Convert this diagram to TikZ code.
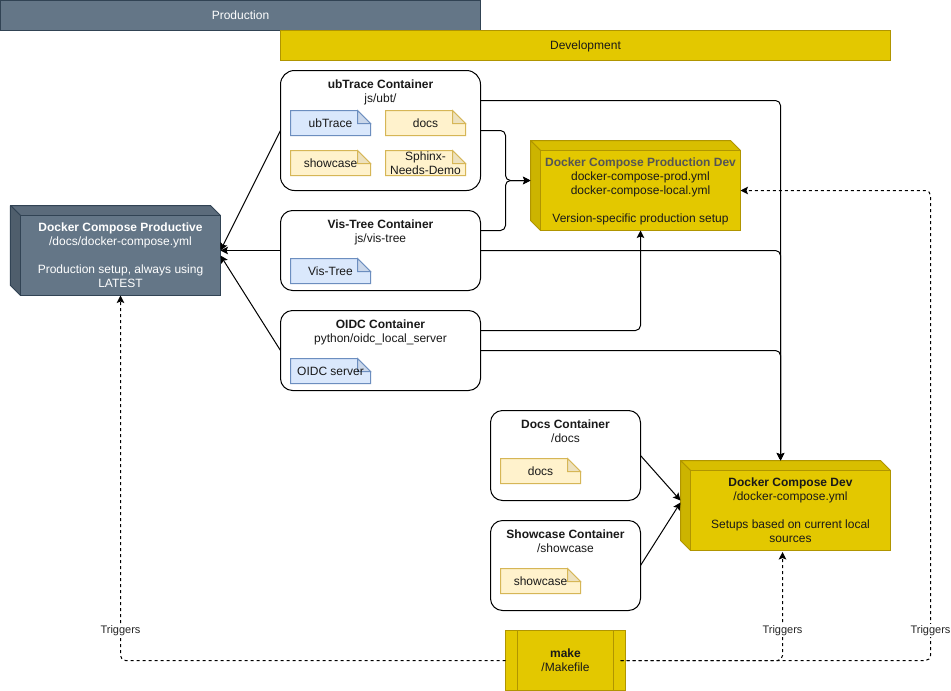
\documentclass[tikz,border=0pt]{standalone}
\usepackage{fontspec}
\setmainfont{Liberation Sans}
\usetikzlibrary{arrows.meta,calc}
\definecolor{slateF}{HTML}{647687}
\definecolor{slateS}{HTML}{314354}
\definecolor{slateTop}{HTML}{5B6B7B}
\definecolor{slateSide}{HTML}{4F5E6C}
\definecolor{goldF}{HTML}{E3C800}
\definecolor{goldS}{HTML}{B09500}
\definecolor{goldTop}{HTML}{D8BE00}
\definecolor{goldSide}{HTML}{CCB400}
\definecolor{noteYF}{HTML}{FFF2CC}
\definecolor{noteYS}{HTML}{D6B656}
\definecolor{noteYD}{HTML}{EDE1BE}
\definecolor{noteBF}{HTML}{DAE8FC}
\definecolor{noteBS}{HTML}{6C8EBF}
\definecolor{noteBD}{HTML}{CAD7EA}
\definecolor{txtgray}{HTML}{555555}
\tikzset{
  every node/.style={font=\fontsize{12}{14}\selectfont,inner sep=0pt,outer sep=0pt,text=black!90},
  bar/.style={draw,line width=1pt,anchor=north west},
  prodbar/.style={bar,fill=slateF,draw=slateS,text=white},
  devbar/.style={bar,fill=goldF,draw=goldS},
  container/.style={draw=black,fill=white,line width=1pt,rounded corners=12pt,anchor=north west},
  ctext/.style={align=center},
  notetext/.style={align=center,anchor=north west,minimum width=80pt,minimum height=25pt},
  front/.style={align=center,anchor=north west,line width=1pt,minimum width=200pt,minimum height=80pt},
  makebox/.style={draw=goldS,fill=goldF,line width=1pt,align=center,anchor=north west,minimum width=120pt,minimum height=60pt},
  link/.style={draw=black,line width=1pt,rounded corners=5pt,-{Stealth[length=7.5pt,width=7.5pt,inset=1.5pt]}},
  trig/.style={draw=black,line width=1pt,rounded corners=5pt,dash pattern=on 3pt off 3pt,-{Stealth[length=7.5pt,width=7.5pt,inset=1.5pt]}},
  triglabel/.style={fill=white,font=\fontsize{11}{13}\selectfont,text=black!85,inner sep=1pt},
}
% name, x, y, kind (Y/B), text
\newcommand{\notebox}[5]{%
  \path[fill=note#4F,draw=note#4S,line width=1pt] (#2,#3) -- ++(67,0) -- ++(13,13) -- ++(0,12) -- ++(-80,0) -- cycle;
  \path[fill=note#4D,draw=note#4S,line width=1pt] (#2+67,#3) -- ++(13,13) -- ++(-13,0) -- cycle;
  \node[notetext] (#1) at (#2,#3) {#5};
}
% name, x, y, colour prefix, text
\newcommand{\cubebox}[5]{%
  \path[fill=#4Top,draw=#4S,line width=1pt,line join=round] (#2,#3) -- ++(200,0) -- ++(10,10) -- ++(-200,0) -- cycle;
  \path[fill=#4Side,draw=#4S,line width=1pt,line join=round] (#2,#3) -- ++(10,10) -- ++(0,80) -- ++(-10,-10) -- cycle;
  \node[front,fill=#4F,draw=#4S] (#1) at (#2+10,#3+10) {#5};
}
\begin{document}
\begin{tikzpicture}[x=1pt,y=-1pt]
\path[use as bounding box,fill=white] (-0.5,-0.5) rectangle (950.5,690.5);

\node[prodbar,minimum width=480pt,minimum height=30pt] (production) at (0,0) {Production};
\node[devbar,minimum width=610pt,minimum height=30pt] (development) at (280,30) {\rule{0pt}{10.2pt}Development};

% containers
\node[container,rounded corners=14pt,minimum width=200pt,minimum height=120pt] (ub) at (280,70) {};
\node[ctext] (ubT) at (380,91.7) {\textbf{ubTrace Container}\\js/ubt/};
\notebox{nUb}{290}{110}{B}{ubTrace}
\notebox{nDocs}{385}{110}{Y}{docs}
\notebox{nShow}{290}{150}{Y}{showcase}
\notebox{nSph}{385}{150}{Y}{Sphinx-\\Needs-Demo}

\node[container,minimum width=200pt,minimum height=80pt] (vis) at (280,210) {};
\node[ctext] (visT) at (380,231.7) {\textbf{Vis-Tree Container}\\js/vis-tree};
\notebox{nVis}{290}{258}{B}{Vis-Tree}

\node[container,minimum width=200pt,minimum height=80pt] (oidc) at (280,310) {};
\node[ctext] (oidcT) at (380,331.7) {\textbf{OIDC Container}\\python/oidc\_local\_server};
\notebox{nOidc}{290}{358}{B}{OIDC server}

\node[container,minimum width=150pt,minimum height=90pt] (dc) at (490,410) {};
\node[ctext] (dcT) at (565,430.8) {\textbf{Docs Container}\\/docs};
\notebox{nDc}{500}{458}{Y}{docs}

\node[container,minimum width=150pt,minimum height=90pt] (sc) at (490,520) {};
\node[ctext] (scT) at (565,540.8) {\textbf{Showcase Container}\\/showcase};
\notebox{nSc}{500}{568}{Y}{showcase}

% cubes
\cubebox{prod}{10}{205}{slate}{\color{white}\textbf{Docker Compose Productive}\\\color{white}/docs/docker-compose.yml\\~\\\color{white}Production setup, always using\\\color{white}LATEST}
\cubebox{pd}{530}{140}{gold}{\rule{0pt}{10.2pt}\textcolor{txtgray}{\textbf{Docker Compose Production Dev}}\\docker-compose-prod.yml\\docker-compose-local.yml\\~\\Version-specific production setup}
\cubebox{dev}{680}{460}{gold}{\textbf{Docker Compose Dev}\\/docker-compose.yml\\~\\Setups based on current local\\sources}

% make
\node[makebox] (make) at (505,630) {\textbf{make}\\/Makefile};
\draw[goldS,line width=1pt] ($(make.north west)+(12,0)$) -- ($(make.south west)+(12,0)$);
\draw[goldS,line width=1pt] ($(make.north east)+(-12,0)$) -- ($(make.south east)+(-12,0)$);

% free ends
\coordinate (devIn) at (780,460);
\coordinate (devOut) at (782,551.5);
\coordinate (pdIn) at (530,180);
\coordinate (rt) at (930,190);
\coordinate (mkR) at (620,660);
\coordinate (prodA) at (220,250);
\coordinate (prodB) at (220,255);
\coordinate (devA) at (680,500);
\coordinate (devB) at (680,502);

% connectors to the productive cube
\draw[link] (ub.west) -- (prodA);
\draw[link] (vis.west) -- (prodA);
\draw[link] (oidc.west) -- (prodB);

% connectors to the dev cube
\draw[link] (ub.east |- 0,100) -| (devIn);
\draw[link] (vis.east |- 0,250) -| (devIn);
\draw[link] (oidc.east) -| (devIn);
\draw[link] (dc.east) -- (devA);
\draw[link] (sc.east |- 0,565) -- (devB);

% connectors to the production dev cube
\draw[link] (ub.east |- 0,130) -- ++(25,0) |- (pdIn);
\draw[link] (vis.east |- 0,230) -- ++(25,0) |- (pdIn);
\draw[link] (oidc.east |- 0,330) -| (pd.south);

% make triggers
\draw[trig] (make.west) -| (prod.south);
\draw[trig] (mkR) -| (devOut);
\draw[trig] (mkR) -| (rt) -- (pd.east);

\node[triglabel] (t1) at (120,630) {Triggers};
\node[triglabel] (t2) at (782,630) {Triggers};
\node[triglabel] (t3) at (930,630) {Triggers};
\end{tikzpicture}
\end{document}
